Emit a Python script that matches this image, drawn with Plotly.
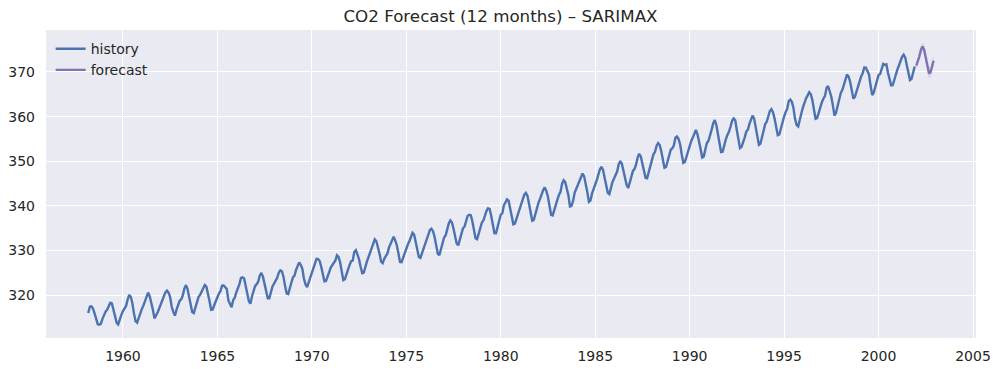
import pandas as pd
import plotly.graph_objects as go

# ---- data (monthly CO2, ppm) ----
history_start = "1958-03-01"
history_values = [
    316.0, 317.4, 317.5, 317.0, 315.9, 314.9, 313.5, 313.4, 313.6, 314.7,  # 1958 Mar-Dec
    315.62, 316.38, 316.71, 317.72, 318.29, 318.15, 316.54, 314.80, 313.84, 313.46, 314.80, 315.58,  # 1959
    316.43, 316.97, 317.58, 319.02, 320.03, 319.59, 318.18, 315.91, 314.16, 313.83, 315.00, 316.19,  # 1960
    316.93, 317.70, 318.54, 319.48, 320.58, 319.77, 318.57, 316.79, 314.80, 315.38, 316.10, 317.01,  # 1961
    317.94, 318.56, 319.68, 320.63, 321.01, 320.55, 319.58, 317.40, 316.26, 315.42, 316.69, 317.69,  # 1962
    318.74, 319.08, 319.86, 321.39, 322.25, 321.47, 319.74, 317.77, 316.21, 315.99, 317.12, 318.31,  # 1963
    319.57, 320.07, 320.73, 321.77, 322.25, 321.89, 320.44, 318.70, 316.70, 316.79, 317.79, 318.71,  # 1964
    319.44, 320.44, 320.89, 322.13, 322.16, 321.87, 321.39, 318.81, 317.81, 317.30, 318.87, 319.42,  # 1965
    320.62, 321.59, 322.39, 323.87, 324.01, 323.75, 322.39, 320.37, 318.64, 318.10, 319.79, 321.08,  # 1966
    322.07, 322.50, 323.04, 324.42, 325.00, 324.09, 322.55, 320.92, 319.31, 319.31, 320.72, 321.96,  # 1967
    322.57, 323.15, 323.89, 325.02, 325.57, 325.36, 324.14, 322.03, 320.41, 320.25, 321.31, 322.84,  # 1968
    324.00, 324.42, 325.64, 326.66, 327.34, 326.76, 325.88, 323.67, 322.38, 321.78, 322.85, 324.11,  # 1969
    325.03, 325.99, 326.87, 328.13, 328.07, 327.66, 326.35, 324.69, 323.10, 323.16, 323.98, 325.13,  # 1970
    326.17, 326.68, 327.18, 327.78, 328.92, 328.57, 327.34, 325.46, 323.36, 323.57, 324.80, 326.01,  # 1971
    326.77, 327.63, 327.75, 329.72, 330.07, 329.09, 328.05, 326.32, 324.93, 325.06, 326.50, 327.55,  # 1972
    328.54, 329.56, 330.30, 331.50, 332.48, 332.07, 330.87, 329.31, 327.51, 327.18, 328.16, 328.64,  # 1973
    329.35, 330.71, 331.48, 332.65, 333.09, 332.25, 331.18, 329.40, 327.43, 327.37, 328.46, 329.57,  # 1974
    330.40, 331.40, 332.04, 333.31, 333.96, 333.59, 331.91, 330.06, 328.56, 328.34, 329.49, 330.76,  # 1975
    331.75, 332.56, 333.50, 334.58, 334.87, 334.34, 333.05, 330.94, 329.30, 328.94, 330.31, 331.68,  # 1976
    332.93, 333.42, 334.70, 336.07, 336.74, 336.27, 334.93, 332.75, 331.58, 331.16, 332.40, 333.85,  # 1977
    334.97, 335.39, 336.64, 337.76, 338.01, 337.89, 336.54, 334.68, 332.76, 332.54, 333.92, 334.95,  # 1978
    336.23, 336.76, 337.96, 338.89, 339.47, 339.29, 337.73, 336.09, 333.91, 333.86, 335.29, 336.73,  # 1979
    338.01, 338.36, 340.08, 340.77, 341.46, 341.17, 339.56, 337.60, 335.88, 336.01, 337.10, 338.21,  # 1980
    339.23, 340.47, 341.38, 342.51, 342.91, 342.25, 340.49, 338.43, 336.69, 336.85, 338.36, 339.61,  # 1981
    340.75, 341.61, 342.70, 343.56, 344.13, 343.35, 342.06, 339.82, 337.97, 337.86, 339.26, 340.49,  # 1982
    341.38, 342.52, 343.10, 344.94, 345.75, 345.32, 343.99, 342.39, 339.86, 339.99, 341.16, 342.99,  # 1983
    343.82, 344.63, 345.38, 346.38, 347.24, 346.62, 345.22, 343.11, 340.90, 341.18, 342.80, 344.04,  # 1984
    344.79, 345.82, 347.25, 348.17, 348.75, 348.07, 346.38, 344.52, 342.92, 342.62, 344.06, 345.38,  # 1985
    346.11, 346.78, 347.68, 349.37, 350.03, 349.37, 347.76, 345.73, 344.68, 343.99, 345.48, 346.72,  # 1986
    347.84, 348.29, 349.23, 350.80, 351.66, 351.07, 349.33, 347.92, 346.27, 346.18, 347.64, 348.78,  # 1987
    350.25, 351.54, 352.05, 353.41, 354.04, 353.62, 352.22, 350.27, 348.55, 348.72, 349.91, 351.18,  # 1988
    352.60, 352.92, 353.53, 355.26, 355.52, 354.97, 353.75, 351.52, 349.64, 349.83, 351.14, 352.37,  # 1989
    353.50, 354.55, 355.23, 356.04, 357.00, 356.07, 354.67, 352.76, 350.82, 351.04, 352.69, 354.07,  # 1990
    354.59, 355.63, 357.03, 358.48, 359.22, 358.12, 356.06, 353.92, 352.05, 352.11, 353.64, 354.89,  # 1991
    355.88, 356.63, 357.72, 359.07, 359.58, 359.17, 356.94, 354.92, 352.94, 353.23, 354.09, 355.33,  # 1992
    356.63, 357.10, 358.32, 359.41, 360.23, 359.55, 357.53, 355.48, 353.67, 353.95, 355.30, 356.78,  # 1993
    358.34, 358.89, 359.95, 361.25, 361.67, 360.94, 359.55, 357.49, 355.84, 356.00, 357.59, 359.05,  # 1994
    359.98, 361.03, 361.66, 363.48, 363.82, 363.30, 361.94, 359.50, 358.11, 357.80, 359.61, 360.74,  # 1995
    362.09, 363.29, 364.06, 364.76, 365.45, 365.01, 363.70, 361.54, 359.51, 359.65, 360.80, 362.38,  # 1996
    363.23, 364.06, 364.61, 366.40, 366.84, 365.68, 364.52, 362.57, 360.24, 360.83, 362.49, 364.34,  # 1997
    365.27, 365.98, 367.24, 368.66, 369.42, 368.99, 367.82, 365.95, 364.02, 364.40, 365.52, 367.13,  # 1998
    368.18, 369.07, 369.68, 370.99, 370.96, 370.30, 369.45, 366.90, 364.81, 365.37, 366.72, 368.10,  # 1999
    369.29, 369.54, 370.60, 371.82, 371.58, 371.70, 369.86, 368.13, 367.00, 367.03, 368.37, 369.67,  # 2000
    370.59, 371.51, 372.43, 373.37, 373.85, 373.22, 371.50, 369.61, 368.18, 368.45, 369.76, 371.24,  # 2001
]

forecast_start = "2002-01-01"
forecast_values = [371.4, 372.4, 373.5, 375.0, 375.7, 375.0, 373.5, 371.5, 369.8, 369.9, 371.2, 372.5]
forecast_lower = [370.8, 371.8, 372.8, 374.2, 374.8, 374.0, 372.4, 370.4, 368.6, 368.7, 369.9, 371.2]
forecast_upper = [372.0, 373.0, 374.2, 375.8, 376.6, 376.0, 374.6, 372.6, 371.0, 371.1, 372.5, 373.8]

title_text = "CO2 Forecast (12 months) – SARIMAX"

# ---- build ----
hist_dates = pd.date_range(history_start, periods=len(history_values), freq="MS")
fc_dates = pd.date_range(forecast_start, periods=len(forecast_values), freq="MS")

HIST_C = "#4C72B0"
FC_C = "#8172B2"
TXT = "#262626"
FONT = "DejaVu Sans"

W, H = 1001, 372

fig = go.Figure()
fig.add_trace(go.Scatter(x=hist_dates, y=history_values, mode="lines", name="history",
                         line=dict(color=HIST_C, width=2.4)))
fig.add_trace(go.Scatter(x=list(fc_dates) + list(fc_dates[::-1]),
                         y=forecast_upper + forecast_lower[::-1],
                         fill="toself", fillcolor="rgba(129,114,178,0.2)",
                         line=dict(width=0), mode="lines", showlegend=False, hoverinfo="skip"))
fig.add_trace(go.Scatter(x=fc_dates, y=forecast_values, mode="lines", name="forecast",
                         line=dict(color=FC_C, width=2.4)))

fig.update_layout(
    width=W, height=H,
    margin=dict(l=46, r=25, t=30, b=34, autoexpand=False),
    paper_bgcolor="white", plot_bgcolor="#EAEAF2",
    font=dict(family=FONT, color=TXT, size=14),
    title=dict(text=title_text, x=0.5, xanchor="center", y=1 - 16 / H, yanchor="middle",
               pad=dict(t=0, b=0), font=dict(size=16.7, color=TXT, family=FONT), automargin=False),
    legend=dict(x=0.005, y=0.99, xanchor="left", yanchor="top", bgcolor="rgba(0,0,0,0)",
                font=dict(size=14, color=TXT), tracegroupgap=0),
    showlegend=True,
)
fig.update_xaxes(type="date", range=["1955-12-05", "2005-02-28"], tick0="1960-01-01", dtick="M60",
                 tickformat="%Y", showgrid=True, gridcolor="white", gridwidth=1.2,
                 zeroline=False, showline=False, ticks="", ticklabelstandoff=8, automargin=False,
                 tickfont=dict(size=14, color=TXT, family=FONT))
fig.update_yaxes(range=[310.4, 379.4], dtick=10, tick0=320, showgrid=True, gridcolor="white",
                 gridwidth=1.2, zeroline=False, showline=False, ticks="", ticklabelstandoff=10,
                 automargin=False, tickfont=dict(size=14, color=TXT, family=FONT))

fig.write_html("out.html", config={"displayModeBar": False},
               post_script="document.body.style.margin='0';")
